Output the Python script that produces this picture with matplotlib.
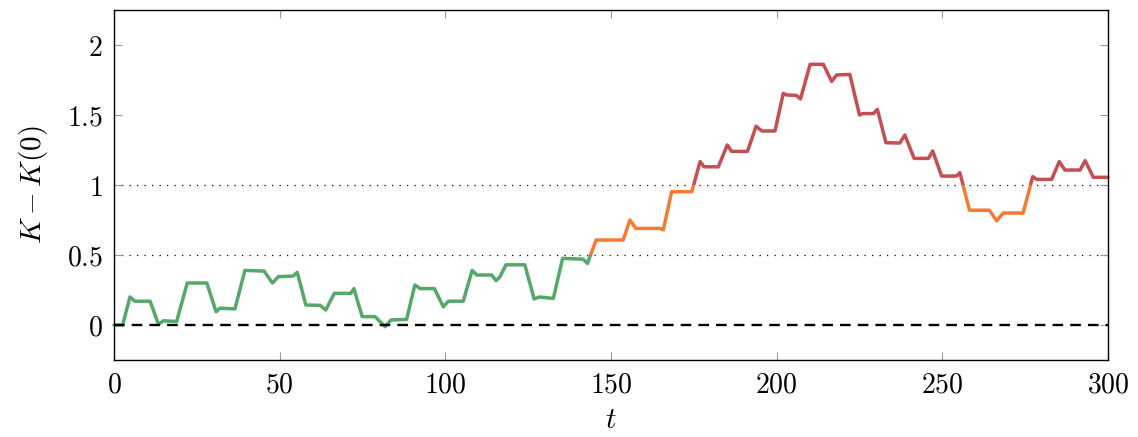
import matplotlib
matplotlib.use("Agg")
import matplotlib.pyplot as plt
from matplotlib.patches import Rectangle
from matplotlib.ticker import FuncFormatter

plt.rcParams['mathtext.fontset'] = 'cm'
plt.rcParams['font.family'] = 'serif'
plt.rcParams['font.serif'] = ['DejaVu Serif']

# K(t) - K(0), read at the corners of each step
t = [0, 2.6, 4.8, 6.3, 10.9, 13.4, 14.9, 18.9, 22.1, 28.0, 30.8, 32.0, 36.5,
     39.5, 45.3, 47.8, 49.6, 54.1, 55.3, 57.9, 62.2, 63.9, 66.5, 71.5, 72.4,
     74.9, 78.8, 81.8, 83.6, 88.3, 90.8, 92.4, 96.7, 99.4, 100.9, 105.4,
     108.1, 109.5, 114.0, 115.3, 116.5, 118.3, 124.0, 126.8, 128.4, 132.6,
     135.4, 141.6, 142.9, 145.5, 153.7, 155.7, 157.5, 164.8, 165.8, 168.3,
     174.4, 176.9, 178.1, 182.4, 185.1, 186.4, 191.2, 193.8, 195.5, 199.5,
     202.0, 203.0, 206.0, 207.2, 210.1, 214.1, 216.6, 218.1, 222.1, 225.0,
     226.0, 229.2, 230.4, 233.0, 237.2, 238.7, 241.5, 245.8, 247.1, 249.8,
     254.3, 255.3, 258.2, 264.2, 266.4, 268.4, 274.4, 277.3, 278.5, 283.0,
     285.3, 287.0, 291.6, 293.1, 295.6, 300]
dK = [0.0, 0.0, 0.20, 0.17, 0.17, 0.005, 0.03, 0.025, 0.30, 0.30, 0.095, 0.12,
      0.115, 0.39, 0.385, 0.30, 0.345, 0.35, 0.376, 0.143, 0.14, 0.107, 0.226,
      0.226, 0.26, 0.06, 0.06, -0.012, 0.036, 0.04, 0.286, 0.26, 0.26, 0.13,
      0.17, 0.17, 0.39, 0.357, 0.357, 0.317, 0.345, 0.43, 0.43, 0.186, 0.20,
      0.19, 0.476, 0.47, 0.44, 0.607, 0.607, 0.75, 0.69, 0.69, 0.68, 0.952,
      0.952, 1.167, 1.13, 1.13, 1.286, 1.24, 1.24, 1.42, 1.386, 1.386, 1.655,
      1.643, 1.64, 1.614, 1.862, 1.862, 1.74, 1.786, 1.79, 1.50, 1.51, 1.51,
      1.54, 1.302, 1.30, 1.357, 1.19, 1.19, 1.243, 1.064, 1.064, 1.088, 0.82,
      0.82, 0.745, 0.80, 0.80, 1.06, 1.04, 1.04, 1.167, 1.107, 1.107, 1.174,
      1.055, 1.055]

# colour bands: below 0.5, between 0.5 and 1, above 1
bands = [(-1.0, 0.5, '#55a868'), (0.5, 1.0, '#f47b33'), (1.0, 3.0, '#c44e52')]

xticks = [0, 50, 100, 150, 200, 250, 300]
yticks = [0, 0.5, 1, 1.5, 2]

fig = plt.figure(figsize=(11.38, 4.37), dpi=100)
ax = fig.add_axes([0.1002, 0.1762, 0.8734, 0.8009])

ax.axhline(0.5, color='black', lw=0.9, ls=(0, (1, 5)), zorder=1)
ax.axhline(1.0, color='black', lw=0.9, ls=(0, (1, 5)), zorder=1)

for lo, hi, col in bands:
    line, = ax.plot(t, dK, color=col, lw=2.5, solid_joinstyle='round',
                    solid_capstyle='round', zorder=2)
    clip = Rectangle((-10, lo), 320, hi - lo, transform=ax.transData)
    line.set_clip_path(clip)

ax.axhline(0.0, color='black', lw=1.7, ls=(0, (4.5, 3)), zorder=3)

ax.set_xlim(0, 300)
ax.set_ylim(-0.25, 2.25)
ax.set_xticks(xticks)
ax.set_yticks(yticks)
ax.xaxis.set_major_formatter(FuncFormatter(lambda v, p: '$%g$' % v))
ax.yaxis.set_major_formatter(FuncFormatter(lambda v, p: '$%g$' % v))
ax.tick_params(direction='in', length=6, width=0.8, color='#999999',
               top=True, right=True, labelsize=20, pad=8)
for s in ax.spines.values():
    s.set_linewidth(1.0)

ax.set_xlabel('$t$', fontsize=21, labelpad=6)
ax.set_ylabel('$K - K(0)$', fontsize=21, labelpad=12)

fig.savefig('out.png', dpi=100)
